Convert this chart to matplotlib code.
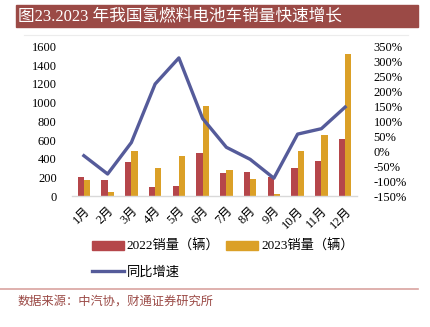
import matplotlib
matplotlib.use("Agg")
import matplotlib.pyplot as plt
from matplotlib.patches import Rectangle
from matplotlib.lines import Line2D
import numpy as np

plt.rcParams['font.family'] = ['Liberation Serif', 'Noto Sans CJK SC', 'DejaVu Sans']
plt.rcParams['axes.unicode_minus'] = False

months = ['1月', '2月', '3月', '4月', '5月', '6月', '7月', '8月', '9月', '10月', '11月', '12月']
sales_2022 = [203, 181, 373, 103, 114, 463, 253, 263, 213, 309, 377, 616]
sales_2023 = [171, 50, 488, 309, 431, 964, 285, 185, 25, 484, 655, 1515]
yoy_pct = [-14, -75, 30, 225, 312, 110, 14, -26, -89, 58, 76, 148]

left_ticks = [0, 200, 400, 600, 800, 1000, 1200, 1400, 1600]
right_ticks = [-150, -100, -50, 0, 50, 100, 150, 200, 250, 300, 350]

c_red = '#B5464A'
c_yel = '#DBA027'
c_line = '#555B9A'
c_title = '#9B4A46'

fig = plt.figure(figsize=(4.3, 3.27), dpi=100)

# title bar
fig.patches.append(Rectangle((16 / 430, 1 - 27 / 327), 402 / 430, 22 / 327,
                             transform=fig.transFigure, color=c_title, zorder=0))
fig.text(18 / 430, 1 - 16 / 327, '图23.2023 年我国氢燃料电池车销量快速增长',
         color='white', fontsize=12, va='center', ha='left')
fig.add_artist(Line2D([24 / 430, 408 / 430], [1 - 35 / 327] * 2,
                      transform=fig.transFigure, color='#ECECEC', lw=0.8))

ax = fig.add_axes([72 / 430, 1 - 196.5 / 327, 285 / 430, 150 / 327])
x = np.arange(len(months))
w = 0.265
ax.bar(x - w / 2, sales_2022, w, color=c_red, zorder=2)
ax.bar(x + w / 2, sales_2023, w, color=c_yel, zorder=2)
ax.set_xlim(-0.5, len(months) - 0.5)
ax.set_ylim(0, 1600)
ax.set_yticks(left_ticks)
ax.set_yticklabels([str(v) for v in left_ticks])
ax.set_xticks(x)
ax.set_xticklabels(months, rotation=45, ha='right', rotation_mode='anchor')
ax.tick_params(axis='both', length=0, labelsize=9, colors='black')
ax.tick_params(axis='y', pad=11)
ax.tick_params(axis='x', pad=6)
for s in ['top', 'right', 'left']:
    ax.spines[s].set_visible(False)
ax.spines['bottom'].set_color('#D9D9D9')
ax.spines['bottom'].set_linewidth(1.0)

ax2 = ax.twinx()
ax2.plot(x, yoy_pct, color=c_line, lw=2.4, zorder=3, solid_joinstyle='round')
ax2.set_ylim(-150, 350)
ax2.set_yticks(right_ticks)
ax2.set_yticklabels([f'{v}%' for v in right_ticks])
ax2.tick_params(axis='y', length=0, labelsize=9, pad=12)
for s in ax2.spines.values():
    s.set_visible(False)

handles = [Rectangle((0, 0), 1, 1, color=c_red),
           Line2D([0], [0], color=c_line, lw=2.4),
           Rectangle((0, 0), 1, 1, color=c_yel)]
labels = ['2022销量（辆）', '同比增速', '2023销量（辆）']
fig.legend(handles, labels, ncol=2, loc='upper left',
           bbox_to_anchor=(80 / 430, 1 - 228 / 327), frameon=False,
           fontsize=9.5, handlelength=2.4, handleheight=0.6,
           columnspacing=0.5, handletextpad=0.25, labelspacing=1.0)

fig.add_artist(Line2D([0, 418 / 430], [1 - 288.5 / 327] * 2,
                      transform=fig.transFigure, color='#D9A3A0', lw=1.2))
fig.text(18 / 430, 1 - 302 / 327, '数据来源：中汽协，财通证券研究所',
         color=c_title, fontsize=8.8, va='center', ha='left')

fig.savefig('out.png', dpi=100)
